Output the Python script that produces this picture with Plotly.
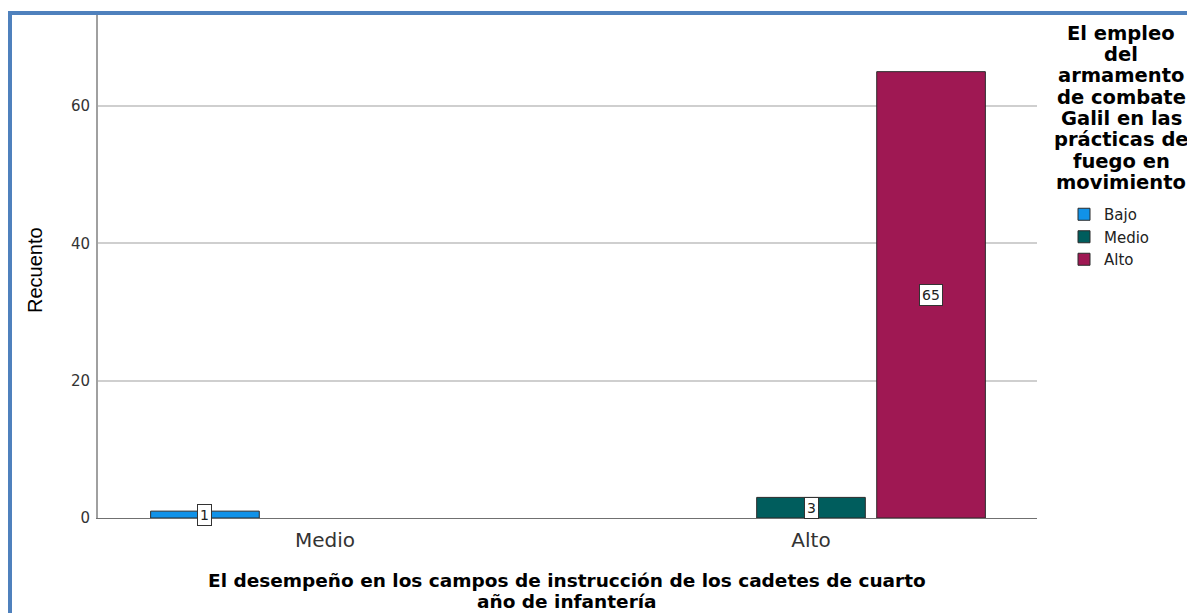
import plotly.graph_objects as go

categories = ["Medio", "Alto"]
series_names = ["Bajo", "Medio", "Alto"]
bajo = [1, None]
medio = [None, 3]
alto = [None, 65]
series_values = [bajo, medio, alto]
colors = ["#1192e8", "#005d5d", "#9f1853"]
y_ticks = [0, 20, 40, 60]
legend_title_lines = ["El empleo", "del", "armamento", "de combate", "Galil en las",
                      "prácticas de", "fuego en", "movimiento"]
x_title_lines = ["El desempeño en los campos de instrucción de los cadetes de cuarto",
                 "año de infantería"]
y_title = "Recuento"

BARGAP = 0.259
BARGROUPGAP = 0.095

fig = go.Figure()
for name, vals, col in zip(series_names, series_values, colors):
    fig.add_trace(go.Bar(
        name=name, x=categories, y=vals,
        marker=dict(color=col, line=dict(color="#2b2b2b", width=1)),
        hoverinfo="x+y+name",
    ))

# data labels (white boxes in the middle of each bar)
n = len(series_names)
slot = (1 - BARGAP) / n
annotations = []
for si, vals in enumerate(series_values):
    for ci, v in enumerate(vals):
        if v is None:
            continue
        annotations.append(dict(
            x=ci + (si - (n - 1) / 2) * slot, y=v / 2, xref="x", yref="y",
            text=str(v), showarrow=False,
            font=dict(family="DejaVu Sans", size=14, color="#222222"),
            bgcolor="#ffffff", bordercolor="#333333", borderwidth=1, borderpad=2,
        ))

# plot area geometry in window pixels (page body has an 8px margin)
OFF = 8
W, H = 1195 - OFF, 613 - OFF
L, R, T, B = 98, 1037, 15, 518
pw, ph = R - L, B - T

def px(xp):
    return (xp - L) / pw

def py(yp):
    return (B - yp) / ph

# legend title lines
for i, line in enumerate(legend_title_lines):
    annotations.append(dict(
        x=px(1121), y=py(33 + i * 21.4), xref="paper", yref="paper",
        xanchor="center", yanchor="middle", text=f"<b>{line}</b>", showarrow=False,
        font=dict(family="DejaVu Sans", size=19.5, color="#000000"),
    ))

# x axis title lines
for i, line in enumerate(x_title_lines):
    annotations.append(dict(
        x=px(567), y=py(580.5 + i * 21), xref="paper", yref="paper",
        xanchor="center", yanchor="middle", text=f"<b>{line}</b>", showarrow=False,
        font=dict(family="DejaVu Sans", size=18.5, color="#000000"),
    ))

# y axis title
annotations.append(dict(
    x=px(35), y=py(270), xref="paper", yref="paper", textangle=-90,
    xanchor="center", yanchor="middle", text=y_title, showarrow=False,
    font=dict(family="Liberation Sans", size=20, color="#000000"),
))

border_col = "#4f81bd"
shapes = [
    dict(type="line", xref="paper", yref="paper", x0=px(10), x1=px(10), y0=py(700), y1=py(11),
         line=dict(color=border_col, width=4)),
    dict(type="line", xref="paper", yref="paper", x0=px(8), x1=px(1300), y0=py(13), y1=py(13),
         line=dict(color=border_col, width=4)),
]

fig.update_layout(
    width=W, height=H,
    margin=dict(l=L - OFF, r=W - (R - OFF), t=T - OFF, b=H - (B - OFF), pad=0),
    paper_bgcolor="#ffffff", plot_bgcolor="#ffffff",
    barmode="group", bargap=BARGAP, bargroupgap=BARGROUPGAP,
    font=dict(family="DejaVu Sans", color="#333333"),
    xaxis=dict(
        type="category", range=[(L - 325) / 486, (R - 325) / 486],
        showgrid=False, showline=True, linecolor="#707070", linewidth=1,
        ticks="", tickfont=dict(family="DejaVu Sans", size=20, color="#333333"),
        ticklabelstandoff=4, zeroline=False,
    ),
    yaxis=dict(
        range=[0, (B - T) / ((518 - 106) / 60)],
        tickvals=y_ticks, showgrid=True, gridcolor="#cfcfcf", gridwidth=1.5,
        showline=True, linecolor="#a0a0a0", linewidth=2, zeroline=False,
        ticks="", tickfont=dict(family="DejaVu Sans", size=15, color="#333333"),
        ticklabelstandoff=3,
    ),
    showlegend=True,
    legend=dict(
        x=px(1064), y=py(198), xanchor="left", yanchor="top",
        font=dict(family="DejaVu Sans", size=15, color="#222222"),
        bgcolor="rgba(0,0,0,0)", borderwidth=0, itemwidth=30,
        tracegroupgap=0,
    ),
    annotations=annotations,
    shapes=shapes,
)

fig.write_html("out.html")
